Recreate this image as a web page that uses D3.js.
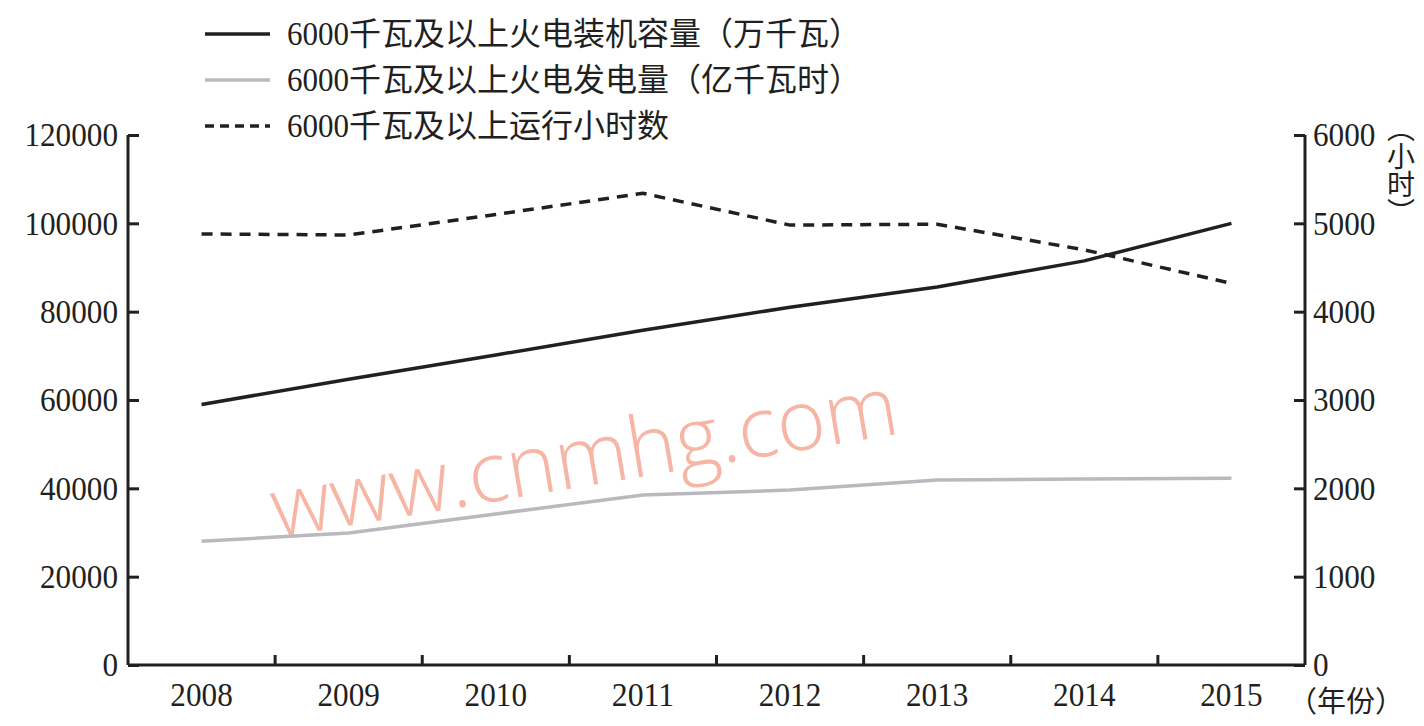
<!DOCTYPE html>
<html>
<head>
<meta charset="utf-8">
<script src="https://cdn.jsdelivr.net/npm/d3@7"></script>
<style>
  body { margin: 0; background: #fff; }
  svg { display: block; }
  text { fill: #231f20; }
</style>
</head>
<body>
<div id="chart"></div>
<script>
// categories
const years = ["2008", "2009", "2010", "2011", "2012", "2013", "2014", "2015"];
// 6000千瓦及以上火电装机容量（万千瓦）- left axis
const capacity = [59000, 64700, 70200, 75800, 81000, 85600, 91500, 100000];
// 6000千瓦及以上火电发电量（亿千瓦时）- left axis
const generation = [28000, 29900, 34200, 38500, 39600, 41900, 42100, 42300];
// 6000千瓦及以上运行小时数 - right axis
const hours = [4880, 4868, 5100, 5340, 4980, 4990, 4700, 4320];

const leftTicks = [0, 20000, 40000, 60000, 80000, 100000, 120000];
const rightTicks = [0, 1000, 2000, 3000, 4000, 5000, 6000];

// legend entries: leading number + Chinese part
const legendNames = [
    ["6000", "千瓦及以上火电装机容量（万千瓦）"],
    ["6000", "千瓦及以上火电发电量（亿千瓦时）"],
    ["6000", "千瓦及以上运行小时数"]
];

const width = 1424, height = 726;
const plotLeft = 128, plotRight = 1305, plotTop = 135, plotBottom = 665;
const ink = "#231f20";
const serif = '"Liberation Serif", serif';
const cjk = '"Noto Sans CJK SC", sans-serif';

const svg = d3.select('#chart').append('svg')
    .attr('width', width)
    .attr('height', height);

const x = d3.scaleBand().domain(years).range([plotLeft, plotRight]);
const yL = d3.scaleLinear().domain([0, 120000]).range([plotBottom, plotTop]);
const yR = d3.scaleLinear().domain([0, 6000]).range([plotBottom, plotTop]);
const cx = d => x(d) + x.bandwidth() / 2;

// watermark
svg.append('text')
    .attr('transform', 'translate(276,538) rotate(-9.5)')
    .attr('font-weight', 300)
    .attr('font-size', 84)
    .attr('textLength', 634)
    .attr('lengthAdjust', 'spacingAndGlyphs')
    .style('fill', '#f7b5a5')
    .style('font-family', '"Open Sans", sans-serif')
    .text('www.cnmhg.com');

// left axis
const axL = svg.append('g')
    .attr('transform', `translate(${plotLeft},0)`)
    .call(d3.axisLeft(yL).tickValues(leftTicks).tickSize(-11).tickPadding(10).tickSizeOuter(0).tickFormat(d3.format('d')));
// right axis
const axR = svg.append('g')
    .attr('transform', `translate(${plotRight},0)`)
    .call(d3.axisRight(yR).tickValues(rightTicks).tickSize(-11).tickPadding(8).tickSizeOuter(0).tickFormat(d3.format('d')));
// bottom axis (labels at band centres, ticks between bands)
const axB = svg.append('g')
    .attr('transform', `translate(0,${plotBottom})`)
    .call(d3.axisBottom(x).tickSize(0).tickPadding(17).tickSizeOuter(0));
axB.selectAll('.tick-sep')
    .data(years.slice(0, -1))
    .enter().append('line')
    .attr('class', 'tick-sep')
    .attr('x1', d => x(d) + x.step())
    .attr('x2', d => x(d) + x.step())
    .attr('y1', 0)
    .attr('y2', -10)
    .attr('stroke', ink)
    .attr('stroke-width', 3);

[axL, axR, axB].forEach(g => {
    g.select('.domain').attr('stroke', ink).attr('stroke-width', 3);
    g.selectAll('.tick line').attr('stroke', ink).attr('stroke-width', 3);
    g.selectAll('text')
        .attr('font-size', 34)
        .attr('font-family', serif)
        .attr('textLength', function() { return this.textContent.length * 15.6; })
        .attr('lengthAdjust', 'spacingAndGlyphs')
        .style('fill', ink);
});
axL.select('.domain').attr('d', `M0,${plotTop}V${plotBottom}`);
axR.select('.domain').attr('d', `M0,${plotTop}V${plotBottom}`);
axB.select('.domain').attr('d', `M${plotLeft},0H${plotRight}`);

// unit labels
svg.append('text')
    .attr('x', 1288).attr('y', 712)
    .attr('font-size', 29)
    .attr('font-family', cjk)
    .text('（年份）');
svg.append('text')
    .attr('x', 1401).attr('y', 114)
    .attr('font-size', 28)
    .attr('font-family', cjk)
    .style('writing-mode', 'vertical-rl')
    .text('（小时）');

// lines
const lineL = d3.line().x((d, i) => cx(years[i])).y(d => yL(d));
const lineR = d3.line().x((d, i) => cx(years[i])).y(d => yR(d));

svg.append('path')
    .datum(generation)
    .attr('d', lineL)
    .attr('fill', 'none')
    .attr('stroke', '#b9b9bf')
    .attr('stroke-width', 3.5);

svg.append('path')
    .datum(capacity)
    .attr('d', lineL)
    .attr('fill', 'none')
    .attr('stroke', ink)
    .attr('stroke-width', 3.5);

svg.append('path')
    .datum(hours)
    .attr('d', lineR)
    .attr('fill', 'none')
    .attr('stroke', ink)
    .attr('stroke-width', 3.5)
    .attr('stroke-dasharray', '11,8');

// legend
const legendStyles = [
    { stroke: ink, dash: null },
    { stroke: '#b9b9bf', dash: null },
    { stroke: ink, dash: '9,6' }
];
const legend = svg.append('g');
legendNames.forEach((name, i) => {
    const ly = 34 + i * 46;
    legend.append('line')
        .attr('x1', 205).attr('x2', 270)
        .attr('y1', ly).attr('y2', ly)
        .attr('stroke', legendStyles[i].stroke)
        .attr('stroke-width', 3.5)
        .attr('stroke-dasharray', legendStyles[i].dash);
    const t = legend.append('text')
        .attr('x', 287).attr('y', ly + 11);
    t.append('tspan')
        .attr('font-family', serif)
        .attr('font-size', 34)
        .attr('textLength', 62)
        .attr('lengthAdjust', 'spacingAndGlyphs')
        .text(name[0]);
    t.append('tspan')
        .attr('font-family', cjk)
        .attr('font-size', 32)
        .text(name[1]);
});
</script>
</body>
</html>
